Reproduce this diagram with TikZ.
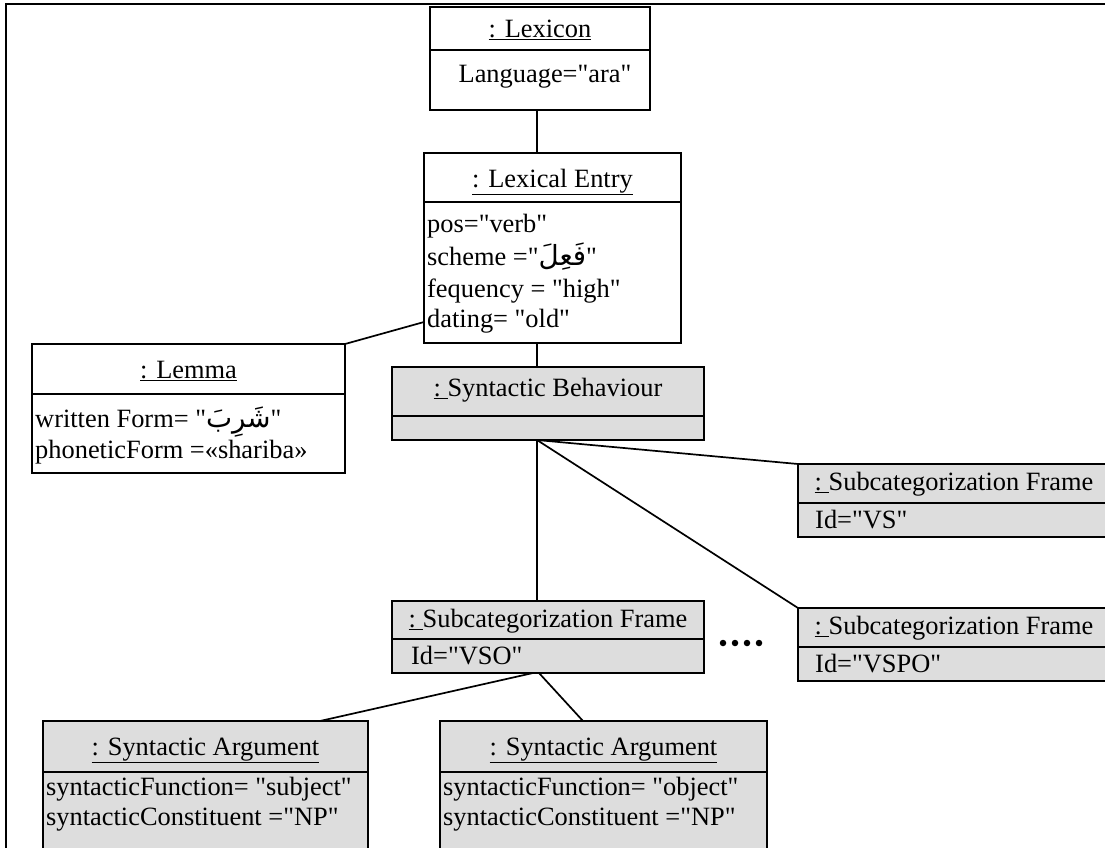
\documentclass[tikz,border=0pt]{standalone}
\usepackage{fontspec}
\setmainfont{Liberation Serif}[Ligatures=TeXOff]
\newfontfamily\arabicfont[Script=Arabic,Scale=1.05]{DejaVu Sans}
\TeXXeTstate=1
\newcommand{\arab}[1]{{\arabicfont\beginR #1\endR}}
\begin{document}
\begin{tikzpicture}[x=1pt,y=-1pt,
  umlbox/.style={draw,line width=1.8pt,rectangle,inner sep=0pt,outer sep=0pt,anchor=north west},
  graybox/.style={umlbox,fill=boxgray},
  divider/.style={line width=1.8pt},
  link/.style={line width=1.7pt},
  title/.style={inner sep=0pt,anchor=base,font=\fontsize{26.4}{32}\selectfont},
  attr/.style={inner sep=0pt,anchor=base west,font=\fontsize{26.4}{32}\selectfont},
  dot/.style={circle,fill=black,inner sep=0pt,minimum size=6.5pt}]
\definecolor{boxgray}{RGB}{221,221,221}
\useasboundingbox (0,0) rectangle (1105,847);
\clip (0,0) rectangle (1105,847);

% frame
\coordinate (frameBL) at (6,850);
\coordinate (frameTL) at (6,4);
\coordinate (frameTR) at (1110,4);
\draw[line width=1.8pt] (frameBL) -- (frameTL) -- (frameTR);

% Lexicon
\node[umlbox,minimum width=220pt,minimum height=103pt] (lexicon) at (430,7) {};
\draw[divider] (430,50) -- (650,50);
\node[title] (lexiconT) at (540,37) {\underline{: Lexicon}};
\node[title] (lexiconA) at (545,82) {Language="ara"};

% Lexical Entry
\node[umlbox,minimum width=257pt,minimum height=190pt] (entry) at (424,153) {};
\draw[divider] (424,202) -- (681,202);
\node[title] (entryT) at (552.5,187) {\underline{: Lexical Entry}};
\node[attr] (entryA1) at (427,232) {pos="verb"};
\node[attr] (entryA2) at (427,265) {scheme ="\arab{فَعِلَ}"};
\node[attr] (entryA3) at (427,297) {fequency = "high"};
\node[attr] (entryA4) at (427,327) {dating= "old"};

% Lemma
\node[umlbox,minimum width=313pt,minimum height=129pt] (lemma) at (32,344) {};
\draw[divider] (32,394) -- (345,394);
\node[title] (lemmaT) at (188.5,378) {\underline{: Lemma}};
\node[attr] (lemmaA1) at (35,427) {written Form= "\arab{شَرِبَ}"};
\node[attr] (lemmaA2) at (35,458) {phoneticForm =«shariba»};

% Syntactic Behaviour
\node[graybox,minimum width=312pt,minimum height=73pt] (sb) at (392,367) {};
\draw[divider] (392,416) -- (704,416);
\node[title] (sbT) at (548,396) {\underline{:~}Syntactic Behaviour};

% Subcategorization Frame VS
\node[graybox,minimum width=312pt,minimum height=73pt] (vs) at (798,464) {};
\draw[divider] (798,503) -- (1110,503);
\node[title] (vsT) at (954,490) {\underline{:~}Subcategorization Frame};
\node[attr] (vsA) at (815,528) {Id="VS"};

% Subcategorization Frame VSPO
\node[graybox,minimum width=312pt,minimum height=73pt] (vspo) at (798,608) {};
\draw[divider] (798,647) -- (1110,647);
\node[title] (vspoT) at (954,634) {\underline{:~}Subcategorization Frame};
\node[attr] (vspoA) at (815,672) {Id="VSPO"};

% Subcategorization Frame VSO
\node[graybox,minimum width=312pt,minimum height=72pt] (vso) at (392,601) {};
\draw[divider] (392,639) -- (704,639);
\node[title] (vsoT) at (548,627) {\underline{:~}Subcategorization Frame};
\node[attr] (vsoA) at (411,664) {Id="VSO"};

% Syntactic Arguments
\node[graybox,minimum width=325pt,minimum height=150pt] (sa1) at (43,721) {};
\draw[divider] (43,772) -- (368,772);
\node[title] (sa1T) at (205.5,755) {\underline{: Syntactic Argument}};
\node[attr] (sa1A1) at (46,795) {syntacticFunction= "subject"};
\node[attr] (sa1A2) at (46,825) {syntacticConstituent ="NP"};

\node[graybox,minimum width=327pt,minimum height=150pt] (sa2) at (440,721) {};
\draw[divider] (440,772) -- (767,772);
\node[title] (sa2T) at (603.5,755) {\underline{: Syntactic Argument}};
\node[attr] (sa2A1) at (443,795) {syntacticFunction= "object"};
\node[attr] (sa2A2) at (443,825) {syntacticConstituent ="NP"};

% ellipsis between frames
\node[dot] (d1) at (723,643) {};
\node[dot] (d2) at (735,643) {};
\node[dot] (d3) at (747,643) {};
\node[dot] (d4) at (759,643) {};

% link end points on box edges
\coordinate (lexiconBot) at (537,110);
\coordinate (entryTop) at (537,153);
\coordinate (entryBot) at (537,343);
\coordinate (entryLeft) at (424,322);
\coordinate (sbTop) at (537,367);
\coordinate (sbBot) at (537,440);
\coordinate (vsoTop) at (537,601);
\coordinate (vsoBotL) at (533,673);
\coordinate (vsoBotR) at (539,673);
\coordinate (sa1Top) at (320,721);
\coordinate (sa2Top) at (583,721);

% links
\draw[link] (lexiconBot) -- (entryTop);
\draw[link] (entryLeft) -- (lemma.north east);
\draw[link] (entryBot) -- (sbTop);
\draw[link] (sbBot) -- (vsoTop);
\draw[link] (sbBot) -- (vs.north west);
\draw[link] (sbBot) -- (vspo.north west);
\draw[link] (vsoBotL) -- (sa1Top);
\draw[link] (vsoBotR) -- (sa2Top);
\end{tikzpicture}
\end{document}
